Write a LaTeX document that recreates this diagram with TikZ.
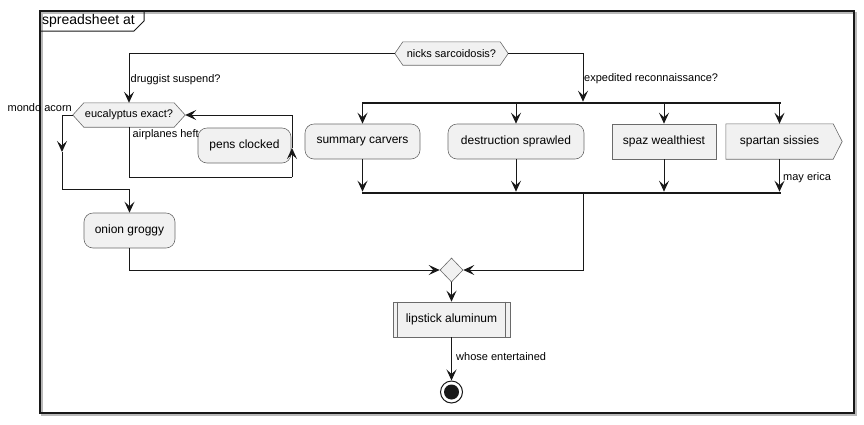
\documentclass[tikz,border=0pt]{standalone}
\usepackage{fontspec}
\setmainfont{Liberation Sans}
\usetikzlibrary{arrows.meta,shapes.geometric}
\pgfdeclarelayer{bg}
\pgfsetlayers{bg,main}
\definecolor{lc}{HTML}{181818}
\definecolor{bc}{HTML}{6A6A6A}
\definecolor{bf}{HTML}{F1F1F1}
\newcommand{\hexa}[2]{\draw[boxline] (#1.west) -- ([xshift=#2]#1.north west) -- ([xshift=-#2]#1.north east) -- (#1.east) -- ([xshift=-#2]#1.south east) -- ([xshift=#2]#1.south west) -- cycle;}
\begin{document}
\begin{tikzpicture}[x=1pt,y=-1pt,
  line/.style={draw=lc, line width=1pt},
  arr/.style={line, -{Stealth[length=11pt,width=10pt,inset=4.5pt]}},
  boxline/.style={draw=bc, fill=bf, line width=0.6pt},
  act/.style={boxline, rounded corners=9pt, font=\fontsize{12}{14}\selectfont, inner sep=0pt, minimum height=35pt},
  rectbox/.style={boxline, font=\fontsize{12}{14}\selectfont, inner sep=0pt, minimum height=35pt},
  plainbox/.style={font=\fontsize{12}{14}\selectfont, inner sep=0pt, minimum height=35pt},
  hexnode/.style={font=\fontsize{11}{13}\selectfont, inner sep=0pt},
  lbl/.style={font=\fontsize{11}{13}\selectfont, inner sep=1pt, anchor=west},
  bar/.style={fill=lc, inner sep=0pt, minimum height=2.2pt}
]
\useasboundingbox (0,0) rectangle (864,424);
% frame
\draw[gray!55, line width=1.2pt] (42,13) rectangle (856,415);
\draw[lc, line width=1.4pt] (40,11) rectangle (854,413);
\draw[lc, line width=1pt] (40,31) -- (134,31) -- (144,21) -- (144,11);
\node[font=\fontsize{14}{16}\selectfont, inner sep=0pt, anchor=west] (title) at (42,21) {spreadsheet at};

% nodes
\node[hexnode, minimum width=113pt, minimum height=23pt] (nicks) at (451.5,53.5) {nicks sarcoidosis?};
\node[hexnode, minimum width=112pt, minimum height=24pt] (euc) at (129,115) {eucalyptus exact?};
\node[act, minimum width=93pt] (pens) at (244.5,145.5) {pens clocked};
\node[act, minimum width=91pt] (onion) at (129.5,230.5) {onion groggy};
\node[act, minimum width=115pt] (summ) at (362.5,141.5) {summary carvers};
\node[act, minimum width=136pt] (destr) at (516,141.5) {destruction sprawled};
\node[rectbox, minimum width=104pt] (spaz) at (664,141.5) {spaz wealthiest};
\node[plainbox, minimum width=107pt] (spart) at (779.5,141.5) {spartan sissies};
\node[bar, minimum width=419pt] (fork) at (571,103) {};
\node[bar, minimum width=419pt] (join) at (571,193) {};
\node[diamond, boxline, inner sep=0pt, minimum width=23pt, minimum height=24pt] (merge) at (451.5,270) {};
\node[rectbox, minimum width=117pt] (lip) at (451.5,319.5) {lipstick aluminum};
\node[circle, draw=lc, line width=1pt, fill=white, minimum size=22pt, inner sep=0pt] (end) at (451.5,392) {};
\node[circle, fill=lc, minimum size=15pt, inner sep=0pt] (endin) at (end.center) {};

\begin{pgfonlayer}{bg}
\hexa{nicks}{8}
\hexa{euc}{11}
\draw[boxline] (spart.north west) -- (spart.north east) -- ([xshift=9pt]spart.east) -- (spart.south east) -- (spart.south west) -- cycle;
\end{pgfonlayer}
\draw[bc, line width=0.6pt] ([xshift=5pt]lip.north west) -- ([xshift=5pt]lip.south west);
\draw[bc, line width=0.6pt] ([xshift=-5pt]lip.north east) -- ([xshift=-5pt]lip.south east);

% coordinates
\coordinate (fin) at (583,103);
\coordinate (loopr) at (292,177);
\coordinate (loopm) at (292,148);
\coordinate (lm) at (62,152);
\coordinate (lw) at (62,189);

% connectors
\draw[arr] (nicks.west) -| (euc.north);
\node[lbl] (l1) at (129.5,80) {druggist suspend?};
\draw[arr] (nicks.east) -| (fin |- fork.north);
\node[lbl] (l2) at (583,79) {expedited reconnaissance?};

\draw[arr] (euc.west) -| (lm);
\draw[arr] (lm) -- (lw) -| (onion.north);
\node[lbl, anchor=east] (l3) at (73,108) {mondo acorn};

\draw[line] (euc.south) |- (loopr);
\draw[arr] (loopr) -- (loopm);
\draw[arr] (loopm) -- (loopm |- euc.east) -- (euc.east);
\node[lbl] (l4) at (131.5,135) {airplanes heft};

\foreach \n in {summ,destr,spaz,spart}{
  \draw[arr] (\n.north |- fork.south) -- (\n.north);
  \draw[arr] (\n.south) -- (\n.south |- join.north);
}
\node[lbl] (l5) at (782,178) {may erica};

\draw[arr] (fin |- join.south) |- (merge.east);
\draw[arr] (onion.south) |- (merge.west);
\draw[arr] (merge.south) -- (lip.north);
\draw[arr] (lip.south) -- (end.north);
\node[lbl] (l6) at (455,357) {whose entertained};
\end{tikzpicture}
\end{document}
